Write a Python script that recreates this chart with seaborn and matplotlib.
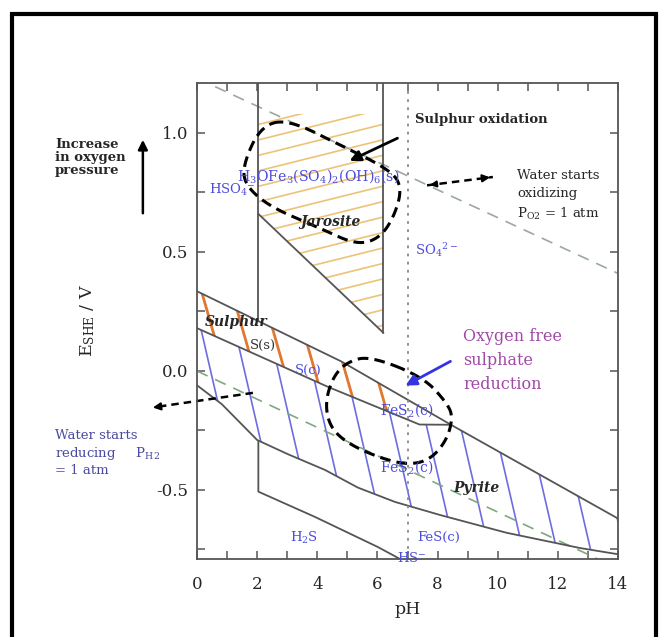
import numpy as np
import seaborn as sns
import matplotlib.pyplot as plt
from matplotlib.patches import Polygon, Rectangle
from matplotlib.ticker import MultipleLocator

# ------------------------------------------------------------
# values (pH, E_SHE in V)
# ------------------------------------------------------------
WATER_OX_PH = [0.0, 14.0]
WATER_OX_E = [1.23, 0.41]
WATER_RED_PH = [0.0, 14.0]
WATER_RED_E = [0.0, -0.83]

UPPER_PH = [0.0, 4.8, 8.5, 14.0]
UPPER_E = [0.335, 0.04, -0.23, -0.62]
SULPHUR_LOW_PH = [0.0, 4.36, 7.4, 8.45]
SULPHUR_LOW_E = [0.18, -0.067, -0.225, -0.226]
PYRITE_LOW_PH = [0.0, 0.83, 2.0, 3.03, 4.26, 5.35, 6.58, 8.08, 10.3, 12.74, 14.0]
PYRITE_LOW_E = [-0.06, -0.14, -0.29, -0.35, -0.416, -0.49, -0.55, -0.605, -0.68, -0.744, -0.77]
FES_PH = [2.04, 2.04, 3.92, 6.02, 6.75]
FES_E = [-0.297, -0.507, -0.613, -0.74, -0.79]
HSO4_PH = [2.04, 2.04]
HSO4_E = [1.21, 0.21]
JAR_RIGHT_PH = [6.2, 6.2]
JAR_RIGHT_E = [1.21, 0.16]
JAR_LOW_PH = [2.04, 6.2]
JAR_LOW_E = [0.66, 0.16]
NEUTRAL_PH = [7.02, 7.02]
NEUTRAL_E = [1.21, -0.79]

JAROSITE_PH = [2.04, 6.2, 6.2, 2.04]
JAROSITE_E = [1.08, 1.08, 0.16, 0.66]
S_BAND_END = 6.6

OX_BLOB_PH = [2.10, 2.99, 4.76, 6.42, 6.82, 6.58, 6.09, 5.32, 4.09, 2.43, 1.60, 1.53]
OX_BLOB_E = [1.025, 1.059, 0.95, 0.845, 0.773, 0.655, 0.559, 0.529, 0.60, 0.689, 0.78, 0.866]
RED_BLOB_PH = [5.75, 7.52, 8.31, 8.51, 8.31, 7.75, 6.98, 5.99, 4.99, 4.42, 4.26, 4.52, 4.99]
RED_BLOB_E = [0.063, -0.025, -0.134, -0.193, -0.29, -0.374, -0.395, -0.361, -0.303, -0.235, -0.134, -0.025, 0.038]

GREY = '#555555'
BLUE_TXT = '#4b4bdc'

sns.set_style('ticks')
plt.rcParams['font.family'] = ['DejaVu Serif']
plt.rcParams['mathtext.fontset'] = 'dejavuserif'

fig = plt.figure(figsize=(6.61, 6.37), dpi=100)
ax = fig.add_axes([197 / 661, 1 - 559 / 637, 421 / 661, 476 / 637])
ax.set_xlim(0, 14)
ax.set_ylim(-0.79, 1.21)


def boundary(xs, ys, color=GREY, lw=1.3, ls='-'):
    sns.lineplot(x=xs, y=ys, ax=ax, estimator=None, sort=False,
                 color=color, linewidth=lw, linestyle=ls)


def hatch(px, py, angle, spacing, color, lw):
    """parallel lines clipped to a polygon (angle in display degrees, spacing in px)"""
    patch = Polygon(np.column_stack([px, py]), closed=True, fill=False,
                    edgecolor='none', transform=ax.transData)
    ax.add_patch(patch)
    pts = ax.transData.transform(np.column_stack([px, py]))
    t = np.deg2rad(angle)
    d = np.array([np.cos(t), np.sin(t)])
    n = np.array([-d[1], d[0]])
    proj, along = pts @ n, pts @ d
    for off in np.arange(proj.min() + spacing / 2, proj.max(), spacing):
        seg = np.array([off * n + along.min() * d, off * n + along.max() * d])
        seg = ax.transData.inverted().transform(seg)
        ln, = ax.plot(seg[:, 0], seg[:, 1], color=color, lw=lw, solid_capstyle='butt')
        ln.set_clip_path(patch)


def smooth_closed(xs, ys, n_iter=4):
    p = np.column_stack([xs, ys])
    for _ in range(n_iter):
        q = np.roll(p, -1, axis=0)
        p = np.vstack([0.75 * p + 0.25 * q, 0.25 * p + 0.75 * q]).reshape(2, -1, 2).transpose(1, 0, 2).reshape(-1, 2)
    p = np.vstack([p, p[:1]])
    return p[:, 0], p[:, 1]


# hatched stability fields
hatch(JAROSITE_PH, JAROSITE_E, 14, 15, '#ecc377', 1.2)

grid = np.linspace(0, S_BAND_END, 40)
band_top = np.interp(grid, UPPER_PH, UPPER_E)
band_bot = np.interp(grid, SULPHUR_LOW_PH, SULPHUR_LOW_E)
hatch(np.r_[grid, grid[::-1]], np.r_[band_top, band_bot[::-1]], -74, 29, '#e0782f', 2.0)

pyr_top_ph = SULPHUR_LOW_PH + UPPER_PH[2:]
pyr_top_e = SULPHUR_LOW_E + UPPER_E[2:]
hatch(pyr_top_ph + PYRITE_LOW_PH[::-1], pyr_top_e + PYRITE_LOW_E[::-1], -77, 33, '#6d6de2', 1.2)

# water stability lines
boundary(WATER_OX_PH, WATER_OX_E, color='#9aaa9a', lw=1.2, ls=(0, (7, 5)))
boundary(WATER_RED_PH, WATER_RED_E, color='#7fa87f', lw=1.2, ls=(0, (7, 5)))

# phase boundaries
for xs, ys in [(UPPER_PH, UPPER_E), (SULPHUR_LOW_PH, SULPHUR_LOW_E),
               (PYRITE_LOW_PH, PYRITE_LOW_E), (FES_PH, FES_E), (HSO4_PH, HSO4_E),
               (JAR_RIGHT_PH, JAR_RIGHT_E), (JAR_LOW_PH, JAR_LOW_E)]:
    boundary(xs, ys)
boundary(NEUTRAL_PH, NEUTRAL_E, color='#888888', lw=1.3, ls=(0, (1.5, 3)))

# dashed highlight blobs
for bx, by in [(OX_BLOB_PH, OX_BLOB_E), (RED_BLOB_PH, RED_BLOB_E)]:
    sx, sy = smooth_closed(bx, by)
    ax.plot(sx, sy, color='black', lw=2.2, ls=(0, (3.5, 2)))

# axes styling
for sp in ax.spines.values():
    sp.set_color(GREY)
    sp.set_linewidth(1.3)
ax.xaxis.set_major_locator(MultipleLocator(2))
ax.xaxis.set_minor_locator(MultipleLocator(1))
ax.yaxis.set_major_locator(MultipleLocator(0.5))
ax.yaxis.set_minor_locator(MultipleLocator(0.25))
ax.yaxis.set_major_formatter(plt.FormatStrFormatter('%.1f'))
ax.tick_params(which='both', direction='in', top=True, right=True, length=6,
               width=1.1, color=GREY, labelsize=12)
ax.tick_params(axis='x', pad=12)
ax.tick_params(axis='y', pad=6)
ax.set_xlabel('pH', fontsize=12.5, labelpad=6)
ax.set_ylabel(r'E$_{\mathrm{SHE}}$ / V', fontsize=12.5)
ax.yaxis.set_label_coords(-0.238, 0.50)

# labels
ax.text(7.25, 1.055, 'Sulphur oxidation', fontsize=9.5, fontweight='bold', va='center')
ax.text(10.64, 0.85, 'Water starts\noxidizing\nP$_{\\mathrm{O2}}$ = 1 atm', fontsize=9.5,
        va='top', linespacing=1.5)
ax.text(7.25, 0.51, r'SO$_4$$^{2-}$', color=BLUE_TXT, fontsize=9.5, va='center')
ax.text(0.4, 0.76, r'HSO$_4$$^{-}$', color=BLUE_TXT, fontsize=9.5, va='center')
ax.text(1.33, 0.82, r'H$_3$OFe$_3$(SO$_4$)$_2$(OH)$_6$(s)', color=BLUE_TXT, fontsize=10.2, va='center')
ax.text(4.42, 0.625, 'Jarosite', fontsize=10, fontweight='bold', style='italic', ha='center', va='center')
ax.text(0.27, 0.206, 'Sulphur', fontsize=10, fontweight='bold', style='italic', va='center')
ax.text(1.76, 0.109, 'S(s)', fontsize=9.5, color='#333333', va='center')
ax.text(3.26, 0.004, 'S(c)', fontsize=9.5, color=BLUE_TXT, va='center')
ax.text(6.09, -0.164, r'FeS$_2$(c)', fontsize=10, color=BLUE_TXT, va='center')
ax.text(6.09, -0.403, r'FeS$_2$(c)', fontsize=10, color=BLUE_TXT, va='center')
ax.text(8.51, -0.49, 'Pyrite', fontsize=10, fontweight='bold', style='italic', va='center')
ax.text(3.09, -0.70, r'H$_2$S', fontsize=9.5, color=BLUE_TXT, va='center')
ax.text(7.32, -0.70, 'FeS(c)', fontsize=9.5, color=BLUE_TXT, va='center')
ax.text(6.65, -0.786, r'HS$^{-}$', fontsize=9.5, color=BLUE_TXT, va='center', clip_on=False)
ax.text(8.85, 0.18, 'Oxygen free\nsulphate\nreduction', fontsize=11.5, color='#a04aa8',
        va='top', linespacing=1.55)
ax.text(-4.72, -0.245, 'Water starts\nreducing     P$_{\\mathrm{H2}}$\n= 1 atm', fontsize=9.5,
        color='#4a4aa0', va='top', linespacing=1.2, clip_on=False)
ax.text(-4.72, 0.977, 'Increase\nin oxygen\npressure', fontsize=9.5, fontweight='bold',
        va='top', linespacing=1.0, clip_on=False)

# arrows
ax.annotate('', xy=(-1.8, 0.983), xytext=(-1.8, 0.651), annotation_clip=False,
            arrowprops=dict(arrowstyle='-|>', color='black', lw=1.8, mutation_scale=14))
ax.annotate('', xy=(4.99, 0.878), xytext=(6.75, 0.983),
            arrowprops=dict(arrowstyle='-|>', color='black', lw=2.0, mutation_scale=16))
ax.annotate('', xy=(6.85, -0.067), xytext=(8.51, 0.046),
            arrowprops=dict(arrowstyle='-|>', color='#3434e0', lw=2.0, mutation_scale=16))
ax.plot([7.65, 9.84], [0.78, 0.815], color='black', lw=1.8, ls=(0, (3, 2)))
ax.annotate('', xy=(9.84, 0.815), xytext=(9.5, 0.81),
            arrowprops=dict(arrowstyle='-|>', color='black', lw=1.5, mutation_scale=11))
ax.annotate('', xy=(7.65, 0.78), xytext=(8.0, 0.786),
            arrowprops=dict(arrowstyle='-|>', color='black', lw=1.5, mutation_scale=9))
ax.plot([1.86, -1.4], [-0.092, -0.152], color='black', lw=1.8, ls=(0, (3, 2)), clip_on=False)
ax.annotate('', xy=(-1.56, -0.155), xytext=(-1.2, -0.149), annotation_clip=False,
            arrowprops=dict(arrowstyle='-|>', color='black', lw=1.5, mutation_scale=11))

# outer frame
fig.add_artist(Rectangle((0.018, -0.02), 0.974, 0.998, transform=fig.transFigure,
                         fill=False, edgecolor='black', linewidth=3))

fig.savefig('out.png', dpi=100)
plt.close(fig)
